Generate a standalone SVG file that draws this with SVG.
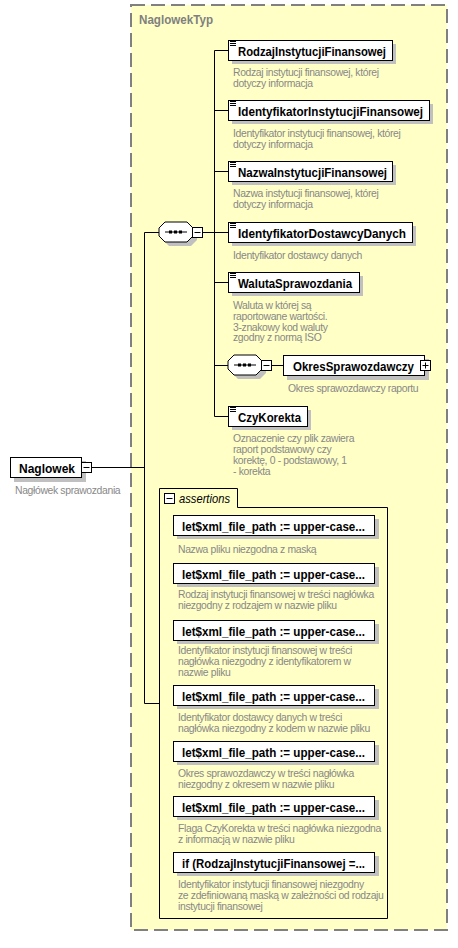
<svg xmlns="http://www.w3.org/2000/svg" width="458" height="948" viewBox="0 0 458 948">
<style>
.bg{fill:#ffffc6;stroke:#808080;stroke-width:2;stroke-dasharray:14,6}
.box{fill:#fff;stroke:#000;stroke-width:1}
.sh{fill:#c0c0c0}
.ln{stroke:#000;stroke-width:1;fill:none}
.nm{font-family:"Liberation Sans",Arial,sans-serif;font-weight:bold;font-size:13px;fill:#000}
.ds{font-family:"Liberation Sans",Arial,sans-serif;font-size:10.4px;fill:#888;letter-spacing:-0.35px}
.ty{font-family:"Liberation Sans",Arial,sans-serif;font-weight:bold;font-size:13px;fill:#808080}
.it{font-family:"Liberation Sans",Arial,sans-serif;font-style:italic;font-size:12.5px;fill:#000}
.btn{fill:#fff;stroke:#000;stroke-width:1}
</style>
<defs>
<g id="hdr"><path d="M2 1.5h6M2 3.5h6M2 5.5h6" stroke="#000" stroke-width="1"/></g>
<g id="seq">
<polygon points="10,4 32,4 38,10 38,18 32,24 10,24 4,18 4,10" class="sh"/>
<polygon points="6,0 28,0 34,6 34,14 28,20 6,20 0,14 0,6" class="box"/>
<line x1="6" y1="10" x2="28" y2="10" stroke="#000" stroke-width="1"/>
<rect x="10" y="8.5" width="3" height="3" fill="#000"/>
<rect x="15" y="8.5" width="3" height="3" fill="#000"/>
<rect x="20" y="8.5" width="3" height="3" fill="#000"/>
</g>
<g id="minus"><rect x="0.5" y="0.5" width="10" height="10" class="btn"/><line x1="2.5" y1="5.5" x2="8.5" y2="5.5" stroke="#000"/></g>
</defs>

<rect id="typebox" x="131" y="5" width="316" height="925" class="bg"/>
<text class="ty" x="139" y="24" textLength="74" lengthAdjust="spacingAndGlyphs">NaglowekTyp</text>

<g id="connectors">
<path class="ln" d="M92 467.5H144.5M144.5 232.5V703.5M144.5 232.5H159M144.5 703.5H159"/>
<path class="ln" d="M203 232.5H214.5M214.5 50.5V416.5"/>
<path class="ln" d="M214.5 50.5H228M214.5 110.5H228M214.5 171.5H228M214.5 232.5H228M214.5 282.5H228M214.5 365.5H228M214.5 416.5H228"/>
<path class="ln" d="M272 365.5H283"/>
</g>

<g id="Naglowek">
<rect x="14" y="461" width="72" height="21" class="sh"/>
<rect x="10.5" y="457.5" width="71" height="20" class="box"/>
<text class="nm" x="19" y="472.5" textLength="56" lengthAdjust="spacingAndGlyphs">Naglowek</text>
<use href="#minus" x="81" y="462"/>
<text class="ds" x="15" y="494">Nagłówek sprawozdania</text>
</g>

<g id="sequence1"><use href="#seq" x="159" y="222"/><use href="#minus" x="192" y="227"/></g>

<g id="RodzajInstytucjiFinansowej">
<rect x="232" y="44" width="164" height="20" class="sh"/>
<rect x="228.5" y="40.5" width="164" height="20" class="box"/>
<use href="#hdr" x="228" y="40"/>
<text class="nm" x="238" y="55.5" textLength="148" lengthAdjust="spacingAndGlyphs">RodzajInstytucjiFinansowej</text>
<text class="ds" x="233" y="75.5">Rodzaj instytucji finansowej, której</text>
<text class="ds" x="233" y="86.5">dotyczy informacja</text>
</g>

<g id="IdentyfikatorInstytucjiFinansowej">
<rect x="232" y="104" width="201" height="20" class="sh"/>
<rect x="228.5" y="100.5" width="201" height="20" class="box"/>
<use href="#hdr" x="228" y="100"/>
<text class="nm" x="238" y="115.5" textLength="185" lengthAdjust="spacingAndGlyphs">IdentyfikatorInstytucjiFinansowej</text>
<text class="ds" x="233" y="136.5">Identyfikator instytucji finansowej, której</text>
<text class="ds" x="233" y="147.5">dotyczy informacja</text>
</g>

<g id="NazwaInstytucjiFinansowej">
<rect x="232" y="165" width="164" height="20" class="sh"/>
<rect x="228.5" y="161.5" width="164" height="20" class="box"/>
<use href="#hdr" x="228" y="161"/>
<text class="nm" x="238" y="176.5" textLength="149" lengthAdjust="spacingAndGlyphs">NazwaInstytucjiFinansowej</text>
<text class="ds" x="233" y="196.5">Nazwa instytucji finansowej, której</text>
<text class="ds" x="233" y="207.5">dotyczy informacja</text>
</g>

<g id="IdentyfikatorDostawcyDanych">
<rect x="232" y="226" width="184" height="20" class="sh"/>
<rect x="228.5" y="222.5" width="184" height="20" class="box"/>
<use href="#hdr" x="228" y="222"/>
<text class="nm" x="238" y="237.5" textLength="168" lengthAdjust="spacingAndGlyphs">IdentyfikatorDostawcyDanych</text>
<text class="ds" x="233" y="258.5">Identyfikator dostawcy danych</text>
</g>

<g id="WalutaSprawozdania">
<rect x="232" y="276" width="131" height="20" class="sh"/>
<rect x="228.5" y="272.5" width="131" height="20" class="box"/>
<use href="#hdr" x="228" y="272"/>
<text class="nm" x="238" y="287.5" textLength="114" lengthAdjust="spacingAndGlyphs">WalutaSprawozdania</text>
<text class="ds" x="233" y="308.5">Waluta w której są</text>
<text class="ds" x="233" y="319.5">raportowane wartości.</text>
<text class="ds" x="233" y="330.5">3-znakowy kod waluty</text>
<text class="ds" x="233" y="341">zgodny z normą ISO</text>
</g>

<g id="sequence2"><use href="#seq" x="228" y="355"/><use href="#minus" x="261" y="360"/></g>

<g id="OkresSprawozdawczy">
<rect x="287" y="359" width="142" height="21" class="sh"/>
<rect x="283.5" y="355.5" width="141" height="20" class="box"/>
<text class="nm" x="293" y="371" textLength="121" lengthAdjust="spacingAndGlyphs">OkresSprawozdawczy</text>
<rect x="420.5" y="360.5" width="10" height="10" class="btn"/>
<path d="M422.5 365.5h6M425.5 362.5v6" stroke="#000"/>
<text class="ds" x="288" y="391.5">Okres sprawozdawczy raportu</text>
</g>

<g id="CzyKorekta">
<rect x="232" y="410" width="79" height="20" class="sh"/>
<rect x="228.5" y="406.5" width="79" height="20" class="box"/>
<use href="#hdr" x="228" y="406"/>
<text class="nm" x="238" y="421.5" textLength="63" lengthAdjust="spacingAndGlyphs">CzyKorekta</text>
<text class="ds" x="233" y="441.5">Oznaczenie czy plik zawiera</text>
<text class="ds" x="233" y="452.5">raport podstawowy czy</text>
<text class="ds" x="233" y="463.5">korektę, 0 - podstawowy, 1</text>
<text class="ds" x="233" y="474.5">- korekta</text>
</g>

<g id="assertions">
<path class="ln" d="M159.5 918.5V488.5H237.5V507.5H387.5V918.5Z"/>
<use href="#minus" x="164" y="493"/>
<text class="it" x="179" y="502.5" textLength="51" lengthAdjust="spacingAndGlyphs">assertions</text>
</g>

<g id="assertion1">
<rect x="177" y="519" width="202" height="20" class="sh"/>
<rect x="173.5" y="515.5" width="201" height="20" class="box"/>
<text class="nm" x="182" y="531" textLength="183" lengthAdjust="spacingAndGlyphs">let$xml_file_path := upper-case...</text>
<text class="ds" x="178" y="552.5">Nazwa pliku niezgodna z maską</text>
</g>
<g id="assertion2">
<rect x="177" y="567" width="202" height="20" class="sh"/>
<rect x="173.5" y="563.5" width="201" height="20" class="box"/>
<text class="nm" x="182" y="579" textLength="183" lengthAdjust="spacingAndGlyphs">let$xml_file_path := upper-case...</text>
<text class="ds" x="178" y="597.5">Rodzaj instytucji finansowej w treści nagłówka</text>
<text class="ds" x="178" y="608.5">niezgodny z rodzajem w nazwie pliku</text>
</g>
<g id="assertion3">
<rect x="177" y="624" width="202" height="20" class="sh"/>
<rect x="173.5" y="620.5" width="201" height="20" class="box"/>
<text class="nm" x="182" y="636" textLength="183" lengthAdjust="spacingAndGlyphs">let$xml_file_path := upper-case...</text>
<text class="ds" x="178" y="653.5">Identyfikator instytucji finansowej w treści</text>
<text class="ds" x="178" y="664.5">nagłówka niezgodny z identyfikatorem w</text>
<text class="ds" x="178" y="675.5">nazwie pliku</text>
</g>
<g id="assertion4">
<rect x="177" y="689" width="202" height="20" class="sh"/>
<rect x="173.5" y="685.5" width="201" height="20" class="box"/>
<text class="nm" x="182" y="701" textLength="183" lengthAdjust="spacingAndGlyphs">let$xml_file_path := upper-case...</text>
<text class="ds" x="178" y="720.5">Identyfikator dostawcy danych w treści</text>
<text class="ds" x="178" y="731.5">nagłówka niezgodny z kodem w nazwie pliku</text>
</g>
<g id="assertion5">
<rect x="177" y="745" width="202" height="20" class="sh"/>
<rect x="173.5" y="741.5" width="201" height="20" class="box"/>
<text class="nm" x="182" y="757" textLength="183" lengthAdjust="spacingAndGlyphs">let$xml_file_path := upper-case...</text>
<text class="ds" x="178" y="776.5">Okres sprawozdawczy w treści nagłówka</text>
<text class="ds" x="178" y="787.5">niezgodny z okresem w nazwie pliku</text>
</g>
<g id="assertion6">
<rect x="177" y="800" width="202" height="20" class="sh"/>
<rect x="173.5" y="796.5" width="201" height="20" class="box"/>
<text class="nm" x="182" y="812" textLength="183" lengthAdjust="spacingAndGlyphs">let$xml_file_path := upper-case...</text>
<text class="ds" x="178" y="831.5">Flaga CzyKorekta w treści nagłówka niezgodna</text>
<text class="ds" x="178" y="842.5">z informacją w nazwie pliku</text>
</g>
<g id="assertion7">
<rect x="177" y="856" width="202" height="20" class="sh"/>
<rect x="173.5" y="852.5" width="201" height="20" class="box"/>
<text class="nm" x="182" y="868" textLength="183" lengthAdjust="spacingAndGlyphs">if (RodzajInstytucjiFinansowej =...</text>
<text class="ds" x="178" y="887.5">Identyfikator instytucji finansowej niezgodny</text>
<text class="ds" x="178" y="898.5">ze zdefiniowaną maską w zależności od rodzaju</text>
<text class="ds" x="178" y="909.5">instytucji finansowej</text>
</g>
</svg>
